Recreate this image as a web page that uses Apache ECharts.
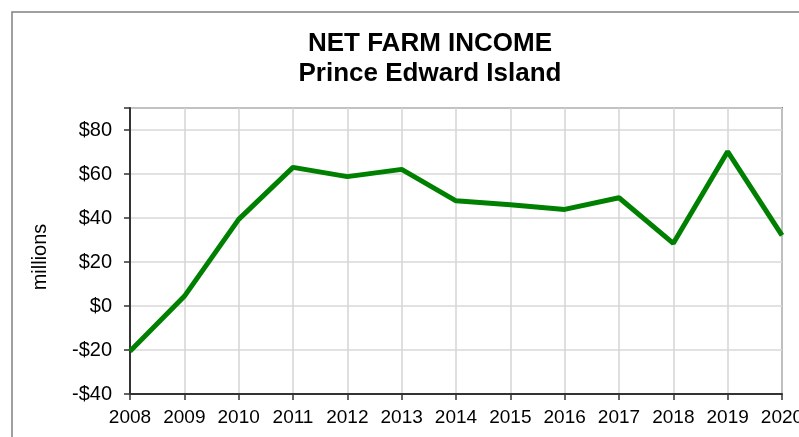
<!DOCTYPE html>
<html>
<head>
<meta charset="utf-8">
<script src="https://cdn.jsdelivr.net/npm/echarts@6/dist/echarts.min.js"></script>
<style>
  html, body { margin: 0; padding: 0; background: #fff; }
  #chart { width: 799px; height: 437px; }
</style>
</head>
<body>
<div id="chart"></div>
<script>
var years = ['2008', '2009', '2010', '2011', '2012', '2013', '2014', '2015', '2016', '2017', '2018', '2019', '2020'];
var netIncome = [-20.6, 4.4, 39.4, 63.0, 58.8, 62.1, 47.8, 46.0, 43.9, 49.2, 28.5, 70.2, 32.1];

var chart = echarts.init(document.getElementById('chart'));
chart.setOption({
	animation : false,
	title : {
		text : 'NET FARM INCOME\nPrince Edward Island',
		left : 425,
		top : 24,
		textAlign : 'center',
		textStyle : {
			fontFamily : 'Liberation Sans, Arial, sans-serif',
			fontSize : 26,
			fontWeight : 'bold',
			color : '#000',
			lineHeight : 30
		}
	},
	graphic : [ {
		type : 'rect',
		shape : { x : 12, y : 12, width : 820, height : 460 },
		style : { fill : 'none', stroke : '#808080', lineWidth : 1.5 },
		silent : true
	}, {
		type : 'text',
		x : 40,
		y : 257,
		rotation : Math.PI / 2,
		style : {
			text : 'millions',
			fontFamily : 'Liberation Sans, Arial, sans-serif',
			fontSize : 20,
			fill : '#000',
			align : 'center',
			verticalAlign : 'middle'
		}
	} ],
	grid : {
		left : 130,
		top : 108,
		right : 17,
		bottom : 43,
		outerBoundsMode : 'none',
		containLabel : false,
		show : true,
		borderColor : '#808080',
		borderWidth : 2
	},
	xAxis : {
		type : 'category',
		data : years,
		boundaryGap : false,
		axisLine : { onZero : false, lineStyle : { color : '#333', width : 2 } },
		axisTick : { show : true, interval : 0, length : 6, lineStyle : { color : '#333', width : 1.5 } },
		axisLabel : {
			interval : 0,
			margin : 14,
			color : '#000',
			fontSize : 19,
			fontFamily : 'Liberation Sans, Arial, sans-serif'
		},
		splitLine : { show : true, interval : 0, lineStyle : { color : '#d4d4d4', width : 1.5 } }
	},
	yAxis : {
		type : 'value',
		min : -40,
		max : 90,
		interval : 20,
		axisLine : { show : true, lineStyle : { color : '#333', width : 2 } },
		axisTick : { show : true, length : 6, lineStyle : { color : '#333', width : 1.5 } },
		axisLabel : {
			margin : 18,
			color : '#000',
			fontSize : 20,
			fontFamily : 'Liberation Sans, Arial, sans-serif',
			formatter : function (v) {
				if (v > 80) return '';
				return v < 0 ? '-$' + Math.abs(v) : '$' + v;
			}
		},
		splitLine : { show : true, lineStyle : { color : '#d9d9d9', width : 1.5 } }
	},
	series : [ {
		name : 'Net farm income',
		type : 'line',
		data : netIncome,
		symbol : 'none',
		clip : false,
		lineStyle : { color : '#008000', width : 5 },
		itemStyle : { color : '#008000' }
	} ]
});
</script>
</body>
</html>
